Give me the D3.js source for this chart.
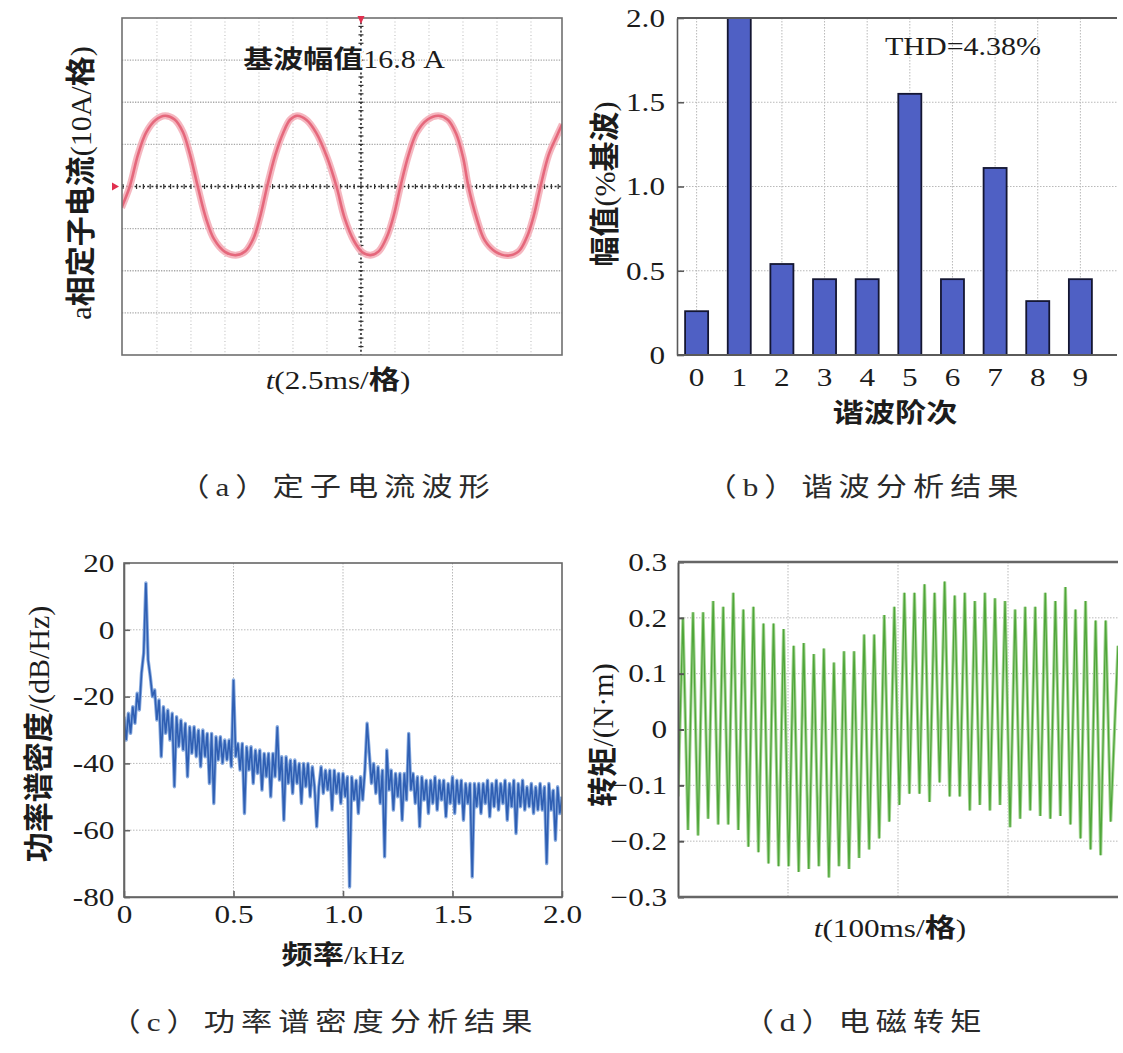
<!DOCTYPE html>
<html><head><meta charset="utf-8">
<script src="https://cdn.jsdelivr.net/npm/d3@7"></script>
<style>
html,body{margin:0;padding:0;background:#fff;}
svg{display:block;}
</style>
</head><body>
<svg id="chart" width="1123" height="1053"></svg>
<script>
// ================= DATA =================
// (a) a-phase stator current, oscilloscope trace: time (ms, 0 = screen centre) / current (A)
const currentTimeMs = [-17.6,-17.0,-16.4,-15.8,-15.1,-14.4,-13.7,-13.1,-12.6,-12.0,
  -11.4,-10.8,-10.0,-9.2,-8.5,-7.9,-7.4,-6.9,-6.3,-5.7,
  -5.2,-4.7,-4.0,-3.3,-2.5,-1.8,-1.2,-0.5,0.1,0.7,
  1.3,1.9,2.4,2.9,3.5,4.1,4.9,5.7,6.4,7.0,
  7.5,7.9,8.5,9.1,9.9,10.8,11.6,12.2,12.7,13.2,
  13.8,14.4,14.8];
const currentAmpA = [-5.0,0.0,7.5,12.8,15.8,16.8,15.9,13.0,8.0,0.0,
  -7.5,-12.5,-15.5,-16.3,-15.4,-12.3,-7.0,0.0,7.5,12.9,
  15.9,16.8,15.8,12.8,7.0,0.0,-7.5,-13.0,-15.6,-16.3,
  -15.4,-12.0,-7.0,0.0,7.5,12.8,15.9,16.8,15.8,12.5,
  7.0,0.0,-7.5,-12.8,-15.5,-16.4,-15.4,-12.0,-7.0,0.0,
  7.5,12.0,14.8];
const scopeTitle = '基波幅值16.8 A';

// (b) harmonic analysis
const harmonicOrders = ['0','1','2','3','4','5','6','7','8','9'];
const harmonicAmps = [0.26, 2.0, 0.54, 0.45, 0.45, 1.55, 0.45, 1.11, 0.32, 0.45];
const harmonicTicks = [0, 0.5, 1.0, 1.5, 2.0];
const thdText = 'THD=4.38%';

// (c) power spectral density (dB/Hz), one sample every psdStepKHz starting at 0 kHz
const psdStepKHz = 0.01;
const psdDb = [
 -26,-33,-25,-31,-23,-28,-19,-24,-13,-7,
 14,-9,-14,-20,-18,-27,-21,-38,-23,-31,
 -24,-33,-25,-47,-26,-35,-27,-36,-28,-44,
 -29,-37,-29,-38,-30,-41,-30,-38,-31,-46,
 -31,-52,-32,-39,-32,-40,-33,-39,-33,-41,
 -15,-38,-34,-42,-34,-55,-35,-42,-35,-46,
 -36,-43,-36,-48,-37,-44,-37,-50,-37,-44,
 -29,-45,-38,-57,-38,-46,-39,-49,-39,-46,
 -40,-52,-40,-47,-40,-50,-41,-47,-59,-47,
 -41,-49,-42,-48,-42,-54,-42,-49,-43,-52,
 -43,-50,-44,-77,-44,-51,-45,-55,-44,-51,
 -42,-28,-37,-46,-40,-49,-41,-52,-42,-68,
 -36,-48,-42,-54,-43,-50,-43,-57,-43,-51,
 -31,-48,-43,-52,-44,-59,-44,-51,-45,-55,
 -45,-52,-44,-54,-45,-51,-45,-56,-46,-52,
 -44,-55,-45,-52,-45,-57,-46,-52,-46,-74,
 -46,-53,-46,-55,-46,-52,-45,-56,-46,-53,
 -45,-54,-46,-52,-45,-57,-46,-53,-45,-61,
 -46,-53,-45,-54,-47,-53,-46,-55,-47,-54,
 -46,-54,-47,-70,-46,-54,-48,-63,-47,-55,
 -50];
const psdYTicks = [-80,-60,-40,-20,0,20];
const psdXTicks = [0,0.5,1.0,1.5,2.0];

// (d) electromagnetic torque (N·m): one peak and one trough per ripple cycle
const torqueStartMs = 4.5;     // time of first peak
const torqueCycleMs = 9.15;    // ripple period
const torqueStartValue = -0.12;
const torqueEndValue = 0.15;
const torquePeaks = [0.20,0.21,0.21,0.23,0.22,0.245,0.215,0.22,0.19,0.19,
  0.18,0.15,0.155,0.135,0.145,0.12,0.14,0.14,0.17,0.17,
  0.205,0.22,0.245,0.245,0.26,0.245,0.265,0.24,0.245,0.23,
  0.245,0.235,0.23,0.215,0.22,0.22,0.245,0.23,0.255,0.215,
  0.23,0.195,0.195];
const torqueTroughs = [-0.18,-0.19,-0.16,-0.17,-0.17,-0.18,-0.21,-0.22,-0.24,-0.245,
  -0.245,-0.255,-0.25,-0.245,-0.265,-0.245,-0.25,-0.23,-0.215,-0.195,
  -0.165,-0.135,-0.115,-0.115,-0.13,-0.095,-0.12,-0.12,-0.145,-0.135,
  -0.145,-0.135,-0.175,-0.16,-0.145,-0.155,-0.16,-0.155,-0.17,-0.195,
  -0.215,-0.225,-0.165];
const torqueYTicks = [-0.3,-0.2,-0.1,0,0.1,0.2,0.3];

const captions = ['（a）定子电流波形','（b）谐波分析结果','（c）功率谱密度分析结果','（d）电磁转矩'];

// ================= HELPERS =================
const svg = d3.select('#chart');
const FONT_LATIN = '"Liberation Serif","Times New Roman",serif';
const FONT_CJK = '"Noto Sans CJK SC","Noto Sans CJK JP",sans-serif';
const SX = 1.2;
const CJK_SPLIT = /[\u3000-\u303f\u3400-\u9fff\uff00-\uffef]+|[^\u3000-\u303f\u3400-\u9fff\uff00-\uffef]+/g;
const CJK_TEST = /[\u3000-\u303f\u3400-\u9fff\uff00-\uffef]/;

function label(parent, str, x, y, o = {}) {
  const size = o.size || 26;
  const sx = o.sx !== undefined ? o.sx : SX;
  let tf = `translate(${x},${y}) scale(${sx},1)`;
  if (o.rotate) tf += ` rotate(${o.rotate})`;
  const t = parent.append('text').attr('transform', tf)
    .attr('text-anchor', o.anchor || 'middle')
    .attr('dy', '0.35em')
    .attr('font-size', size).attr('fill', o.fill || '#1c1c1c')
    .attr('font-family', FONT_LATIN);
  if (o.spacing) t.attr('letter-spacing', o.spacing);
  let s = str;
  if (o.italicFirst) {
    t.append('tspan').attr('font-style', 'italic').text(s[0]);
    s = s.slice(1);
  }
  s.match(CJK_SPLIT).forEach(r => {
    const ts = t.append('tspan').text(r);
    if (CJK_TEST.test(r)) ts.attr('font-family', FONT_CJK).attr('font-weight', o.boldCJK ? 700 : 400);
  });
  return t;
}

function styleAxis(g, stroke, width) {
  g.attr('font-family', FONT_LATIN).attr('font-size', 26);
  g.selectAll('text').attr('fill', '#1c1c1c').attr('transform', `scale(${SX},1)`);
  g.selectAll('line').attr('stroke', stroke).attr('stroke-width', width);
  g.select('.domain').attr('stroke', stroke).attr('stroke-width', width);
}

const gridStyle = sel => sel.attr('stroke', '#b9b9b9').attr('stroke-width', 1).attr('stroke-dasharray', '1.5,1.5');
const ROT = { rotate: -90, boldCJK: true, size: 30, sx: 1 };

// ================= (a) oscilloscope =================
(function () {
  const g = svg.append('g');
  const x = d3.scaleLinear().domain([-17.57, 14.78]).range([122, 562]);
  const y = d3.scaleLinear().domain([-40, 40]).range([355, 18]);
  const vDivs = d3.range(-15, 14, 2.5).filter(v => v !== 0);
  const hDivs = [-30, -20, -10, 10, 20, 30];
  g.selectAll('.vg').data(vDivs).join('line')
    .attr('x1', d => x(d)).attr('x2', d => x(d)).attr('y1', 18).attr('y2', 355)
    .attr('stroke', '#c4c4c4').attr('stroke-width', 1.2).attr('stroke-dasharray', '1,2.4');
  g.selectAll('.hg').data(hDivs).join('line')
    .attr('x1', 122).attr('x2', 562).attr('y1', d => y(d)).attr('y2', d => y(d))
    .attr('stroke', '#a9a9a9').attr('stroke-width', 1.3).attr('stroke-dasharray', '1.3,1.3');
  // centre cross
  g.append('line').attr('x1', x(0)).attr('x2', x(0)).attr('y1', 18).attr('y2', 355)
    .attr('stroke', '#2a2a2a').attr('stroke-width', 1.6).attr('stroke-dasharray', '2,2.2');
  g.append('line').attr('x1', 122).attr('x2', 562).attr('y1', y(0)).attr('y2', y(0))
    .attr('stroke', '#2a2a2a').attr('stroke-width', 1.6).attr('stroke-dasharray', '2,2.2');
  const minorT = d3.range(-17.5, 14.8, 0.5);
  g.selectAll('.mt').data(minorT).join('line')
    .attr('x1', d => x(d)).attr('x2', d => x(d)).attr('y1', y(0) - 2.5).attr('y2', y(0) + 2.5)
    .attr('stroke', '#333').attr('stroke-width', 1.2);
  const minorA = d3.range(-38, 40, 2);
  g.selectAll('.ma').data(minorA).join('line')
    .attr('x1', x(0) - 2.5).attr('x2', x(0) + 2.5).attr('y1', d => y(d)).attr('y2', d => y(d))
    .attr('stroke', '#333').attr('stroke-width', 1.2);

  // title
  const tt = label(g, scopeTitle, 344, 59, { size: 25, boldCJK: true });
  tt.attr('paint-order', 'stroke').attr('stroke', '#fff').attr('stroke-width', 3);

  // trace
  g.append('clipPath').attr('id', 'clipA').append('rect').attr('x', 122).attr('y', 18).attr('width', 440).attr('height', 337);
  const pts = currentTimeMs.map((t, i) => [t, currentAmpA[i]]);
  const line = d3.line().x(d => x(d[0])).y(d => y(d[1])).curve(d3.curveCatmullRom.alpha(0.5));
  const trace = g.append('g').attr('clip-path', 'url(#clipA)');
  trace.append('path').datum(pts).attr('d', line).attr('fill', 'none')
    .attr('stroke', '#f3aab5').attr('stroke-width', 7).attr('stroke-opacity', 0.85);
  trace.append('path').datum(pts).attr('d', line).attr('fill', 'none')
    .attr('stroke', '#e5687c').attr('stroke-width', 2.6);

  // frame
  g.append('rect').attr('x', 122).attr('y', 18).attr('width', 440).attr('height', 337)
    .attr('fill', 'none').attr('stroke', '#707070').attr('stroke-width', 1.6);
  // red markers
  g.append('path').attr('d', `M${x(0) - 3.5},16 L${x(0) + 3.5},16 L${x(0)},24 Z`).attr('fill', '#e0304f');
  g.append('path').attr('d', `M112,${y(0) - 4} L119,${y(0)} L112,${y(0) + 4} Z`).attr('fill', '#e0304f');

  label(g, 'a相定子电流(10A/格)', 80, 183, ROT);
  label(g, 't(2.5ms/格)', 338, 380, { italicFirst: true, boldCJK: true });
})();

// ================= (b) harmonic bars =================
(function () {
  const g = svg.append('g');
  const x = d3.scaleBand().domain(harmonicOrders).range([677, 1100]).paddingInner(0.46).paddingOuter(0.19);
  const y = d3.scaleLinear().domain([0, 2]).range([355, 18]);
  g.selectAll('.vg').data(harmonicOrders).join('line')
    .attr('x1', d => x(d) + x.bandwidth() / 2).attr('x2', d => x(d) + x.bandwidth() / 2)
    .attr('y1', 18).attr('y2', 355).call(gridStyle);
  g.selectAll('.hg').data(harmonicTicks.filter(v => v > 0 && v < 2)).join('line')
    .attr('x1', 677).attr('x2', 1117).attr('y1', d => y(d)).attr('y2', d => y(d)).call(gridStyle);

  g.selectAll('.bar').data(harmonicOrders).join('rect')
    .attr('x', d => x(d)).attr('width', x.bandwidth())
    .attr('y', (d, i) => y(harmonicAmps[i])).attr('height', (d, i) => y(0) - y(harmonicAmps[i]))
    .attr('fill', '#4f60c4').attr('stroke', '#141632').attr('stroke-width', 1.8);

  const ya = g.append('g').attr('transform', 'translate(677,0)')
    .call(d3.axisLeft(y).tickValues(harmonicTicks).tickSizeInner(-7).tickSizeOuter(0).tickPadding(10)
      .tickFormat(d => d === 0 ? '0' : d.toFixed(1)));
  styleAxis(ya, '#5a5a5a', 1.6);
  const xa = g.append('g').attr('transform', 'translate(0,355)')
    .call(d3.axisBottom(x).tickSize(0).tickPadding(13));
  styleAxis(xa, '#5a5a5a', 1.6);
  xa.select('.domain').remove();
  g.append('line').attr('x1', 677).attr('x2', 1117).attr('y1', 355).attr('y2', 355).attr('stroke', '#5a5a5a').attr('stroke-width', 1.8);
  g.append('line').attr('x1', 677).attr('x2', 1117).attr('y1', 18).attr('y2', 18).attr('stroke', '#5a5a5a').attr('stroke-width', 1.8);

  label(g, thdText, 963, 46, { size: 25 });
  label(g, '幅值(%基波)', 604, 184, ROT);
  label(g, '谐波阶次', 895, 413, { boldCJK: true });
})();

// ================= (c) PSD =================
(function () {
  const g = svg.append('g');
  const x = d3.scaleLinear().domain([0, 2]).range([124, 562]);
  const y = d3.scaleLinear().domain([-80, 20]).range([897, 563]);
  g.selectAll('.vg').data(psdXTicks.filter(v => v > 0 && v < 2)).join('line')
    .attr('x1', d => x(d)).attr('x2', d => x(d)).attr('y1', 563).attr('y2', 897).call(gridStyle);
  g.selectAll('.hg').data(psdYTicks.filter(v => v > -80 && v < 20)).join('line')
    .attr('x1', 124).attr('x2', 562).attr('y1', d => y(d)).attr('y2', d => y(d)).call(gridStyle);

  g.append('clipPath').attr('id', 'clipC').append('rect').attr('x', 124).attr('y', 563).attr('width', 438).attr('height', 334);
  const pts = psdDb.map((v, i) => [i * psdStepKHz, v]);
  const line = d3.line().x(d => x(d[0])).y(d => y(d[1]));
  const lg = g.append('g').attr('clip-path', 'url(#clipC)');
  lg.append('path').datum(pts).attr('d', line).attr('fill', 'none')
    .attr('stroke', '#86a9de').attr('stroke-width', 3.4).attr('stroke-linejoin', 'round');
  lg.append('path').datum(pts).attr('d', line).attr('fill', 'none')
    .attr('stroke', '#2f5fb3').attr('stroke-width', 1.6);

  const ya = g.append('g').attr('transform', 'translate(124,0)')
    .call(d3.axisLeft(y).tickValues(psdYTicks).tickSizeInner(-6).tickSizeOuter(0).tickPadding(8)
      .tickFormat(d => String(d)));
  styleAxis(ya, '#666', 1.6);
  const xa = g.append('g').attr('transform', 'translate(0,897)')
    .call(d3.axisBottom(x).tickValues(psdXTicks).tickSizeInner(-6).tickSizeOuter(0).tickPadding(8)
      .tickFormat(d => d === 0 ? '0' : d.toFixed(1)));
  styleAxis(xa, '#666', 1.6);
  g.append('rect').attr('x', 124).attr('y', 563).attr('width', 438).attr('height', 334)
    .attr('fill', 'none').attr('stroke', '#666').attr('stroke-width', 1.6);

  label(g, '功率谱密度/(dB/Hz)', 38, 734, ROT);
  label(g, '频率/kHz', 343, 955, { boldCJK: true });
})();

// ================= (d) torque =================
(function () {
  const g = svg.append('g');
  const x = d3.scaleLinear().domain([0, 400]).range([678, 1118]);
  const y = d3.scaleLinear().domain([-0.3, 0.3]).range([897, 562]);
  g.selectAll('.vg').data([100, 200, 300]).join('line')
    .attr('x1', d => x(d)).attr('x2', d => x(d)).attr('y1', 562).attr('y2', 897).call(gridStyle);
  g.selectAll('.hg').data(torqueYTicks.filter(v => Math.abs(v) < 0.25)).join('line')
    .attr('x1', 678).attr('x2', 1118).attr('y1', d => y(d)).attr('y2', d => y(d)).call(gridStyle);

  const pts = [[0, torqueStartValue]];
  torquePeaks.forEach((p, i) => {
    const t = torqueStartMs + i * torqueCycleMs;
    pts.push([t, p]);
    pts.push([t + torqueCycleMs / 2, torqueTroughs[i]]);
  });
  pts.push([400, torqueEndValue]);
  g.append('clipPath').attr('id', 'clipD').append('rect').attr('x', 678).attr('y', 562).attr('width', 440).attr('height', 335);
  const line = d3.line().x(d => x(d[0])).y(d => y(d[1]));
  const lg = g.append('g').attr('clip-path', 'url(#clipD)');
  lg.append('path').datum(pts).attr('d', line).attr('fill', 'none')
    .attr('stroke', '#a6d595').attr('stroke-width', 3.2);
  lg.append('path').datum(pts).attr('d', line).attr('fill', 'none')
    .attr('stroke', '#4fa63a').attr('stroke-width', 1.3);

  const ya = g.append('g').attr('transform', 'translate(678,0)')
    .call(d3.axisLeft(y).tickValues(torqueYTicks).tickSizeInner(-6).tickSizeOuter(0).tickPadding(9)
      .tickFormat(d => Math.abs(d) < 1e-9 ? '0' : (d < 0 ? '−' : '') + Math.abs(d).toFixed(1)));
  styleAxis(ya, '#555', 2);
  g.append('line').attr('x1', 678).attr('x2', 1118).attr('y1', 562).attr('y2', 562).attr('stroke', '#666').attr('stroke-width', 2.4);
  g.append('line').attr('x1', 678).attr('x2', 1118).attr('y1', 897).attr('y2', 897).attr('stroke', '#666').attr('stroke-width', 2.4);

  label(g, '转矩/(N·m)', 602, 735, ROT);
  label(g, 't(100ms/格)', 890, 928, { italicFirst: true, boldCJK: true });
})();

// ================= captions =================
const capPos = [[337, 487], [865, 487], [324, 1022], [865, 1022]];
captions.forEach((c, i) => label(svg, c, capPos[i][0], capPos[i][1], { size: 26, spacing: 5, fill: '#2a2a2a' }));
</script>
</body></html>
